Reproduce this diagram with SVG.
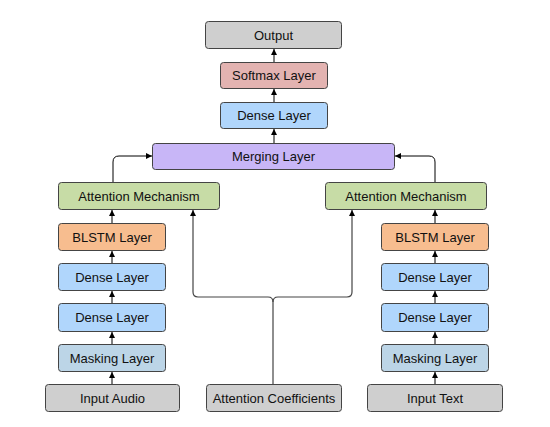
<svg xmlns="http://www.w3.org/2000/svg" width="550" height="427" viewBox="0 0 550 427">
<defs>
<marker id="ah" markerWidth="8" markerHeight="8" refX="6" refY="4" orient="auto" markerUnits="userSpaceOnUse">
<path d="M0,1 L6,4 L0,7 Z" fill="#000"/>
</marker>
<style>
.b{stroke:#444;stroke-width:1}
.t{font-family:"Liberation Sans",Arial,sans-serif;font-size:13px;fill:#111;text-anchor:middle;dominant-baseline:central}
.gray{fill:#cfcfcf}
.pink{fill:#e3b3b1}
.blue{fill:#b0d6fc}
.purple{fill:#c8b6f7}
.green{fill:#c7dca6}
.orange{fill:#f7bd8f}
.mask{fill:#bcd5e7}
.c{fill:none;stroke:#000;stroke-width:1;marker-end:url(#ah)}
.c2{fill:none;stroke:#444;stroke-width:1.2;marker-end:url(#ah)}
</style>
</defs>
<rect width="550" height="427" fill="#fff"/>
<g id="connectors">
<path class="c" d="M274,62 V49"/>
<path class="c" d="M274,102 V89"/>
<path class="c" d="M274,143 V129"/>
<path class="c" d="M113,182 V162 Q113,156 119,156 H152"/>
<path class="c" d="M435,182 V162 Q435,156 429,156 H395"/>
<path class="c" d="M112,223 V210"/>
<path class="c" d="M112,263 V251"/>
<path class="c" d="M112,303 V291"/>
<path class="c" d="M112,344 V332"/>
<path class="c" d="M112,384 V372"/>
<path class="c" d="M435,223 V210"/>
<path class="c" d="M435,263 V251"/>
<path class="c" d="M435,303 V291"/>
<path class="c" d="M435,344 V332"/>
<path class="c" d="M435,384 V372"/>
<path class="c2" d="M273,384 V302 Q273,297 268,297 H198 Q193,297 193,292 V210"/>
<path class="c2" d="M273,302 Q273,297 278,297 H347 Q352,297 352,292 V210"/>
</g>
<g id="output"><rect class="b gray" x="205.500" y="21.500" width="136" height="27" rx="3"/><text class="t" x="273.500" y="35">Output</text></g>
<g id="softmax"><rect class="b pink" x="220.500" y="62.500" width="107" height="26" rx="3"/><text class="t" x="274" y="75.500">Softmax Layer</text></g>
<g id="dense_top"><rect class="b blue" x="220.500" y="102.500" width="107" height="26" rx="3"/><text class="t" x="274" y="115.500">Dense Layer</text></g>
<g id="merging"><rect class="b purple" x="152.500" y="143.500" width="242" height="26" rx="3"/><text class="t" x="273.500" y="156.500">Merging Layer</text></g>
<g id="att_left"><rect class="b green" x="58.500" y="182.500" width="161" height="27" rx="3"/><text class="t" x="139" y="196">Attention Mechanism</text></g>
<g id="blstm_left"><rect class="b orange" x="58.500" y="223.500" width="107" height="27" rx="3"/><text class="t" x="112" y="237">BLSTM Layer</text></g>
<g id="dense1_left"><rect class="b blue" x="58.500" y="263.500" width="107" height="27" rx="3"/><text class="t" x="112" y="277">Dense Layer</text></g>
<g id="dense2_left"><rect class="b blue" x="58.500" y="303.500" width="107" height="28" rx="3"/><text class="t" x="112" y="317.500">Dense Layer</text></g>
<g id="mask_left"><rect class="b mask" x="58.500" y="344.500" width="107" height="27" rx="3"/><text class="t" x="112" y="358">Masking Layer</text></g>
<g id="input_audio"><rect class="b gray" x="45.500" y="384.500" width="134" height="27" rx="3"/><text class="t" x="112.500" y="398">Input Audio</text></g>
<g id="att_coef"><rect class="b gray" x="206.500" y="384.500" width="135" height="27" rx="3"/><text class="t" x="274" y="398">Attention Coefficients</text></g>
<g id="att_right"><rect class="b green" x="325.500" y="182.500" width="161" height="27" rx="3"/><text class="t" x="406" y="196">Attention Mechanism</text></g>
<g id="blstm_right"><rect class="b orange" x="381.500" y="223.500" width="107" height="27" rx="3"/><text class="t" x="435" y="237">BLSTM Layer</text></g>
<g id="dense1_right"><rect class="b blue" x="381.500" y="263.500" width="107" height="27" rx="3"/><text class="t" x="435" y="277">Dense Layer</text></g>
<g id="dense2_right"><rect class="b blue" x="381.500" y="303.500" width="107" height="28" rx="3"/><text class="t" x="435" y="317.500">Dense Layer</text></g>
<g id="mask_right"><rect class="b mask" x="381.500" y="344.500" width="107" height="27" rx="3"/><text class="t" x="435" y="358">Masking Layer</text></g>
<g id="input_text"><rect class="b gray" x="367.500" y="384.500" width="135" height="27" rx="3"/><text class="t" x="435" y="398">Input Text</text></g>
</svg>
